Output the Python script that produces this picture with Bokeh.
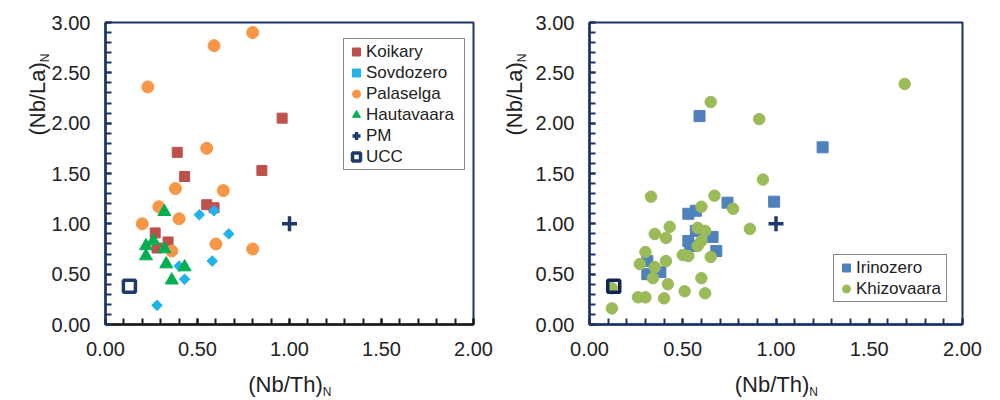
import math
from bokeh.plotting import figure
from bokeh.models import (Range1d, SingleIntervalTicker, NumeralTickFormatter,
                          Label, Legend, LegendItem)
from bokeh.layouts import row
from bokeh.embed import file_html
from bokeh.resources import INLINE

# ---------------- data ----------------
koikary_x = [0.39, 0.43, 0.96, 0.85, 0.55, 0.59, 0.27, 0.34, 0.28]
koikary_y = [1.71, 1.47, 2.05, 1.53, 1.19, 1.16, 0.91, 0.82, 0.76]
sovdozero_x = [0.51, 0.59, 0.67, 0.58, 0.40, 0.43, 0.28]
sovdozero_y = [1.09, 1.13, 0.90, 0.63, 0.58, 0.45, 0.19]
palaselga_x = [0.80, 0.59, 0.23, 0.55, 0.38, 0.64, 0.29, 0.40, 0.20, 0.60, 0.80, 0.36]
palaselga_y = [2.90, 2.77, 2.36, 1.75, 1.35, 1.33, 1.17, 1.05, 1.00, 0.80, 0.75, 0.73]
hautavaara_x = [0.32, 0.26, 0.22, 0.32, 0.22, 0.33, 0.43, 0.36]
hautavaara_y = [1.12, 0.83, 0.78, 0.75, 0.68, 0.60, 0.57, 0.44]
pm_x = [1.0]
pm_y = [1.0]
ucc_x = [0.13]
ucc_y = [0.38]

irinozero_x = [0.59, 1.25, 0.74, 0.99, 0.53, 0.57, 0.57, 0.66, 0.53, 0.54, 0.68, 0.31, 0.31, 0.38]
irinozero_y = [2.07, 1.76, 1.21, 1.22, 1.10, 1.13, 0.93, 0.87, 0.83, 0.78, 0.73, 0.63, 0.50, 0.52]
khizovaara_x = [0.65, 0.91, 1.69, 0.93, 0.33, 0.67, 0.60, 0.77, 0.43, 0.86, 0.58, 0.62, 0.35,
                0.41, 0.60, 0.58, 0.50, 0.53, 0.65, 0.30, 0.41, 0.27, 0.35, 0.34, 0.60, 0.42,
                0.12, 0.51, 0.62, 0.26, 0.30, 0.40, 0.12]
khizovaara_y = [2.21, 2.04, 2.39, 1.44, 1.27, 1.28, 1.17, 1.15, 0.97, 0.95, 0.96, 0.93, 0.90,
                0.86, 0.83, 0.78, 0.69, 0.68, 0.67, 0.72, 0.63, 0.60, 0.57, 0.46, 0.46, 0.40,
                0.36, 0.33, 0.31, 0.27, 0.27, 0.26, 0.16]

x_title = "(Nb/Th)"
y_title = "(Nb/La)"
sub_text = "N"

# ---------------- style ----------------
FONT = "Liberation Sans"
NAVY = "#1b3468"
DARK = "#1f3a6a"
TXT = "#222222"
X0, X1, Y0, Y1 = 0, 2, 0, 3
FRAME_TOP, FRAME_BOTTOM = 22, 324
H = 400


def make_fig(width, left, right, bottom_axis_color):
    p = figure(width=width, height=H, x_range=Range1d(X0, X1), y_range=Range1d(Y0, Y1),
               output_backend="svg", toolbar_location=None,
               min_border_left=left, min_border_right=right,
               min_border_top=FRAME_TOP, min_border_bottom=H - FRAME_BOTTOM)
    p.grid.visible = False
    p.outline_line_color = NAVY
    p.outline_line_width = 2
    p.background_fill_color = "white"
    p.border_fill_color = "white"
    for ax, col in ((p.xaxis[0], bottom_axis_color), (p.yaxis[0], NAVY)):
        ax.ticker = SingleIntervalTicker(interval=0.5, num_minor_ticks=5)
        ax.formatter = NumeralTickFormatter(format="0.00")
        ax.major_label_text_font = FONT
        ax.major_label_text_font_size = "20px"
        ax.major_label_text_color = TXT
        ax.axis_line_color = col
        ax.axis_line_width = 2.5
        ax.major_tick_line_color = col
        ax.minor_tick_line_color = col
        ax.major_tick_line_width = 2
        ax.minor_tick_line_width = 2
        ax.major_tick_in = 6
        ax.major_tick_out = 0
        ax.minor_tick_in = 6
        ax.minor_tick_out = 0
    p.xaxis[0].major_label_standoff = 17
    p.yaxis[0].major_label_standoff = 15
    return p


def add_titles(p, frame_left, frame_w, ytitle_px):
    sx = frame_w / (X1 - X0)
    sy = (FRAME_BOTTOM - FRAME_TOP) / (Y1 - Y0)

    def dx(px):
        return X0 + (px - frame_left) / sx

    def dy(py):
        return Y0 + (FRAME_BOTTOM - py) / sy

    fs, fsub = 22, 12
    wmain = 3.389 * fs
    start = frame_left + frame_w / 2 - (wmain + 8) / 2
    p.add_layout(Label(x=dx(start), y=dy(384), text=x_title, text_font=FONT,
                       text_font_size=f"{fs}px", text_color=TXT,
                       text_align="left", text_baseline="middle"), "below")
    p.add_layout(Label(x=dx(start + wmain), y=dy(391), text=sub_text, text_font=FONT,
                       text_font_size=f"{fsub}px", text_color=TXT,
                       text_align="left", text_baseline="middle"), "right")
    ystart = 135
    hmain = 3.334 * fs
    p.add_layout(Label(x=dx(ytitle_px), y=dy(ystart), text=y_title, text_font=FONT,
                       text_font_size=f"{fs}px", text_color=TXT, angle=math.pi / 2,
                       text_align="left", text_baseline="middle"), "left")
    p.add_layout(Label(x=dx(ytitle_px + 7), y=dy(ystart - hmain), text=sub_text, text_font=FONT,
                       text_font_size=f"{fsub}px", text_color=TXT, angle=math.pi / 2,
                       text_align="left", text_baseline="middle"), "above")


def style_legend(lg):
    lg.label_text_font = FONT
    lg.label_text_font_size = "17px"
    lg.label_text_color = TXT
    lg.border_line_color = "#111111"
    lg.border_line_width = 1.2
    lg.background_fill_color = "white"
    lg.background_fill_alpha = 1
    lg.padding = 2
    lg.spacing = 0
    lg.margin = 0
    lg.glyph_width = 20
    lg.glyph_height = 21
    lg.label_height = 21
    lg.label_standoff = 0


# ---------------- left chart ----------------
p1 = make_fig(496, 105, 23, "#1a1a1a")
r_k = p1.scatter(koikary_x, koikary_y, marker="square", size=10,
                 fill_color="#c0504d", line_color="#c0504d")
r_s = p1.scatter(sovdozero_x, sovdozero_y, marker="square", size=7.5, angle=math.pi / 4,
                 fill_color="#1fb3ec", line_color="#1fb3ec")
r_p = p1.scatter(palaselga_x, palaselga_y, marker="circle", size=12,
                 fill_color="#f79646", line_color="#f79646")
r_h = p1.scatter(hautavaara_x, hautavaara_y, marker="triangle", size=13,
                 fill_color="#00b050", line_color="#00b050")
r_pm = p1.scatter(pm_x, pm_y, marker="cross", size=15, line_color=DARK, line_width=3.5)
r_u = p1.scatter(ucc_x, ucc_y, marker="square", size=12, fill_color="white",
                 line_color=DARK, line_width=3.5)
lg1 = Legend(items=[LegendItem(label="Koikary", renderers=[r_k]),
                    LegendItem(label="Sovdozero", renderers=[r_s]),
                    LegendItem(label="Palaselga", renderers=[r_p]),
                    LegendItem(label="Hautavaara", renderers=[r_h]),
                    LegendItem(label="PM", renderers=[r_pm]),
                    LegendItem(label="UCC", renderers=[r_u])],
             location=(238, 154))
style_legend(lg1)
lg1.label_width = 96
p1.add_layout(lg1)
add_titles(p1, 105, 368, 37)

# ---------------- right chart ----------------
p2 = make_fig(504, 93, 38, NAVY)
r_i = p2.scatter(irinozero_x, irinozero_y, marker="square", size=11,
                 fill_color="#4f81bd", line_color="#4f81bd")
r_kh = p2.scatter(khizovaara_x, khizovaara_y, marker="circle", size=11.5,
                  fill_color="#9bbb59", line_color="#9bbb59")
p2.scatter(pm_x, pm_y, marker="cross", size=15, line_color=DARK, line_width=3.5)
p2.scatter(ucc_x, ucc_y, marker="square", size=12, fill_color=None,
           line_color="#0f2555", line_width=3.5)
lg2 = Legend(items=[LegendItem(label="Irinozero", renderers=[r_i]),
                    LegendItem(label="Khizovaara", renderers=[r_kh])],
             location=(244, 22))
style_legend(lg2)
lg2.label_width = 88
p2.add_layout(lg2)
add_titles(p2, 589, 373, 514)

layout = row(p1, p2)
open("out.html", "w").write(file_html(layout, INLINE))
